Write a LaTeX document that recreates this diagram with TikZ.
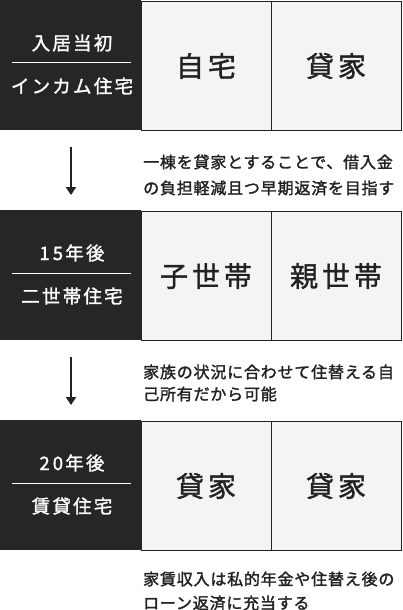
\documentclass[tikz,border=0pt]{standalone}
\usepackage{fontspec}
\setmainfont{Noto Sans CJK JP}
\newfontfamily\jphead[LetterSpace=12,FakeBold=1.6]{Noto Sans CJK JP}
\newfontfamily\jpnote[LetterSpace=5,FakeBold=1.8]{Noto Sans CJK JP}
\newfontfamily\jpcell[LetterSpace=14,FakeBold=1.4]{Noto Sans CJK JP}
\usetikzlibrary{arrows.meta}
\usetikzlibrary{positioning}

\definecolor{boxdark}{HTML}{262626}
\definecolor{cellgray}{HTML}{F4F4F4}
\definecolor{inkdark}{HTML}{222222}

\tikzset{
  headbox/.style={fill=boxdark, minimum width=141pt, minimum height=130pt,
    inner sep=0pt, anchor=north west},
  headtext/.style={text=white, inner sep=0pt,
    font=\jphead\fontsize{18.5}{21}\selectfont},
  cellbox/.style={fill=cellgray, draw=inkdark, line width=1pt,
    minimum width=130pt, minimum height=129pt, inner sep=0pt, text=inkdark,
    font=\jpcell\fontsize{28}{31}\selectfont},
  note/.style={anchor=west, inner sep=0pt, text=inkdark,
    font=\jpnote\fontsize{16}{18}\selectfont},
  whiterule/.style={draw=white, line width=1pt},
  flow/.style={draw=inkdark, line width=2pt, -{Triangle[width=10pt,length=8pt]}}
}

\begin{document}
\begin{tikzpicture}[x=1pt, y=-1pt]
  \useasboundingbox (0,0) rectangle (402,610);

  % three stages
  \foreach \r/\y/\when/\kind/\lcell/\rcell in
    {0/0/入居当初/インカム住宅/自宅/貸家,
     1/210/1\,5年後/二世帯住宅/子世帯/親世帯,
     2/420/2\,0年後/賃貸住宅/貸家/貸家} {
    \node[cellbox] (lcell\r) at (206, \y+66) {\lcell};
    \node[cellbox] (rcell\r) at (336, \y+66) {\rcell};
    \node[headbox] (head\r) at (0, \y) {};
    \draw[whiterule] (12, \y+63) -- (131, \y+63);
    \node[headtext] (when\r) at (72, \y+43) {\when};
    \node[headtext] (kind\r) at (72, \y+86) {\kind};
  }

  % arrows between stages
  \foreach \r/\y in {0/0, 1/210} {
    \coordinate (from\r) at (71, \y+147);
    \coordinate (to\r) at (71, \y+195);
    \draw[flow] (from\r) -- (to\r);
  }

  % notes
  \node[note] (note0a) at (143, 162) {一棟を貸家とすることで、借入金};
  \node[note] (note0b) at (143, 188) {の負担軽減且つ早期返済を目指す};
  \node[note] (note1a) at (143, 372) {家族の状況に合わせて住替える自};
  \node[note] (note1b) at (143, 394) {己所有だから可能};
  \node[note] (note2a) at (143, 579) {家賃収入は私的年金や住替え後の};
  \node[note] (note2b) at (143, 603) {ローン返済に充当する};
\end{tikzpicture}
\end{document}
